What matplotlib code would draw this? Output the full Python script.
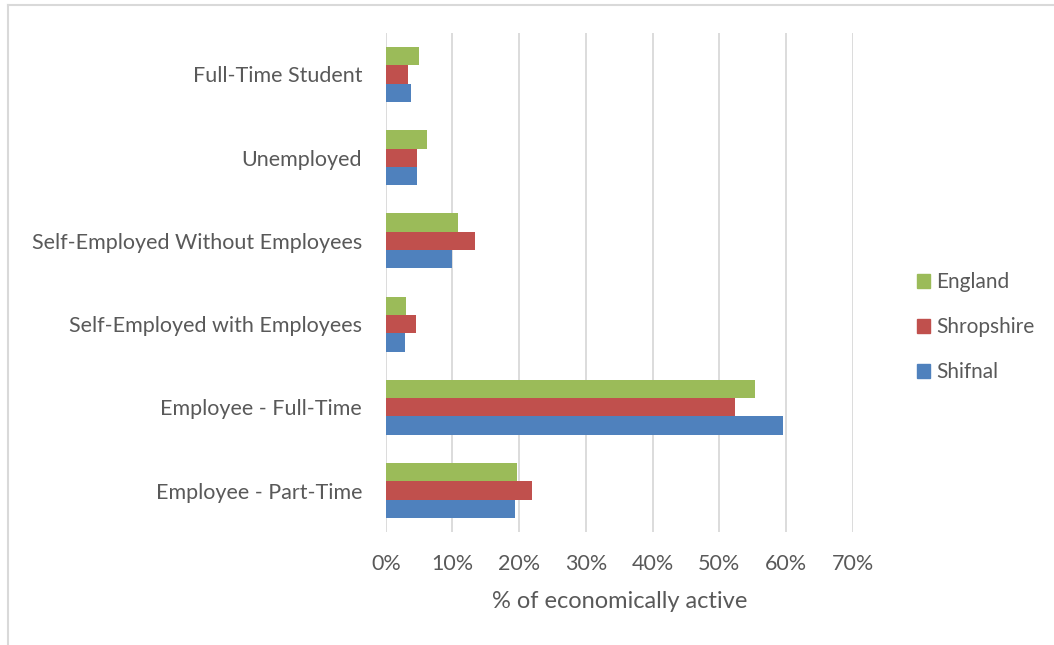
import matplotlib.pyplot as plt
import numpy as np
from matplotlib.lines import Line2D
from matplotlib.patches import Patch
from matplotlib.ticker import PercentFormatter

# data (% of economically active)
categories = [
    "Employee - Part-Time",
    "Employee - Full-Time",
    "Self-Employed with Employees",
    "Self-Employed Without Employees",
    "Unemployed",
    "Full-Time Student",
]
shifnal = [19.35, 59.5, 2.85, 9.95, 4.75, 3.75]
shropshire = [21.9, 52.3, 4.55, 13.4, 4.65, 3.3]
england = [19.6, 55.3, 3.1, 10.8, 6.25, 4.95]

series_names = ["Shifnal", "Shropshire", "England"]
colors = ["#4F81BD", "#C0504D", "#9BBB59"]
text_color = "#595959"

plt.rcParams["font.family"] = ["Lato", "DejaVu Sans"]

fig = plt.figure(figsize=(10.54, 6.45), dpi=100)
ax = fig.add_axes([0.366, 0.175, 0.443, 0.774])

y = np.arange(len(categories))
bar_h = 0.22
for i, (vals, name, col) in enumerate(zip([shifnal, shropshire, england], series_names, colors)):
    ax.barh(y + (i - 1) * bar_h, vals, height=bar_h, color=col, label=name, zorder=3)

ax.set_xlim(0, 70)
ax.set_ylim(-0.5, len(categories) - 0.5)
ax.set_xticks(np.arange(0, 71, 10))
ax.xaxis.set_major_formatter(PercentFormatter(decimals=0))
ax.set_yticks(y)
ax.set_yticklabels(categories)
ax.grid(axis="x", color="#D9D9D9", linewidth=1.3, zorder=0)
for side in ["top", "right", "bottom", "left"]:
    ax.spines[side].set_visible(False)
ax.tick_params(axis="both", length=0, labelsize=15.5, colors=text_color)
ax.tick_params(axis="x", pad=16)
ax.tick_params(axis="y", pad=17)
ax.set_xlabel("% of economically active", fontsize=17, color=text_color, labelpad=12)

handles = [Patch(color=c) for c in reversed(colors)]
ax.legend(handles, list(reversed(series_names)), loc="center left",
          bbox_to_anchor=(1.098, 0.41), frameon=False, fontsize=15,
          labelcolor=text_color, handlelength=0.6, handleheight=0.6,
          handletextpad=0.3, labelspacing=1.2)

# outer chart border (top and left visible in the reference crop)
fig.add_artist(Line2D([0.008, 1.0], [0.992, 0.992], color="#D9D9D9", linewidth=1.5))
fig.add_artist(Line2D([0.008, 0.008], [0.0, 0.992], color="#D9D9D9", linewidth=1.5))

fig.savefig("out.png", dpi=100)
